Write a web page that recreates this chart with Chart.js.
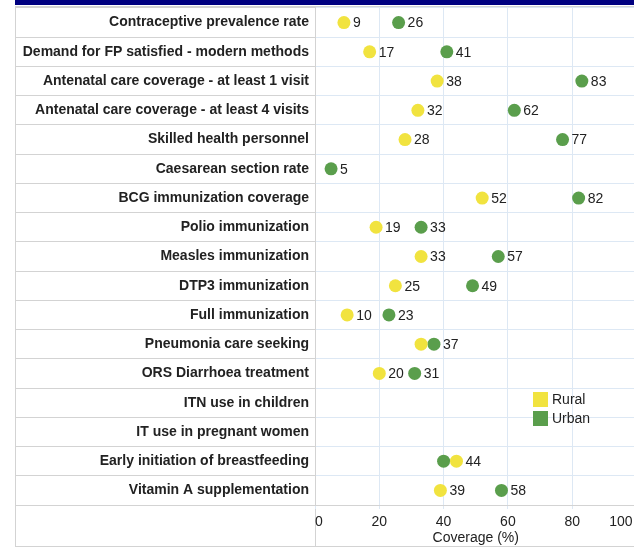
<!DOCTYPE html>
<html>
<head>
<meta charset="utf-8">
<script src="https://cdn.jsdelivr.net/npm/chart.js@4/dist/chart.umd.min.js"></script>
<style>
  html, body { margin: 0; padding: 0; background: #fff; overflow: hidden; width: 634px; height: 547px; }
  #barra { position: absolute; left: 15px; top: 0; width: 625px; height: 5px; background: #000080; }
  #moldura { position: absolute; left: 15px; top: 6px; width: 625px; height: 539px;
             border-top: 1px solid #d3d3d3; border-left: 1px solid #d3d3d3; border-bottom: 1px solid #d3d3d3; }
  #coluna { position: absolute; left: 315px; top: 6px; width: 1px; height: 541px; background: #d3d3d3; }
  #grafico { position: absolute; left: 0; top: 0; }
  #legenda { position: absolute; left: 533px; top: 392px; font: 14px "Liberation Sans", Arial, sans-serif; color: #222; }
  #legenda div { height: 19px; line-height: 15px; white-space: nowrap; }
  #legenda span { display: inline-block; width: 15px; height: 15px; vertical-align: top; margin-right: 4px; }
</style>
</head>
<body>
<div id="barra"></div>
<div id="moldura"></div>
<div id="coluna"></div>
<canvas id="grafico" width="640" height="547"></canvas>
<div id="legenda"></div>
<script>
const indicadores = [
  "Contraceptive prevalence rate",
  "Demand for FP satisfied - modern methods",
  "Antenatal care coverage - at least 1 visit",
  "Antenatal care coverage - at least 4 visits",
  "Skilled health personnel",
  "Caesarean section rate",
  "BCG immunization coverage",
  "Polio immunization",
  "Measles immunization",
  "DTP3 immunization",
  "Full immunization",
  "Pneumonia care seeking",
  "ORS Diarrhoea treatment",
  "ITN use in children",
  "IT use in pregnant women",
  "Early initiation of breastfeeding",
  "Vitamin A supplementation"
];
const rural = [9, 17, 38, 32, 28, null, 52, 19, 33, 25, 10, 33, 20, null, null, 44, 39];
const urbano = [26, 41, 83, 62, 77, 5, 82, 33, 57, 49, 23, 37, 31, null, null, 40, 58];
const ticksX = [0, 20, 40, 60, 80, 100];

const fonte = '"Liberation Sans", Arial, sans-serif';

function pontos(valores) {
  const lista = [];
  valores.forEach((v, i) => {
    if (v !== null) lista.push({ x: v, y: indicadores[i] });
  });
  return lista;
}

// rotulo de valor a direita de cada ponto, omitido quando outro ponto o cobre
const rotulosValores = {
  id: "rotulosValores",
  afterDatasetsDraw(chart) {
    const ctx = chart.ctx;
    const metas = chart.getSortedVisibleDatasetMetas();
    ctx.save();
    ctx.font = "14px " + fonte;
    ctx.fillStyle = "#222";
    ctx.textBaseline = "middle";
    ctx.textAlign = "left";
    metas.forEach(meta => {
      meta.data.forEach((pt, i) => {
        const valor = chart.data.datasets[meta.index].data[i].x;
        const coberto = metas.some(m => m !== meta && m.data.some(o =>
          Math.abs(o.y - pt.y) < 1 && o.x > pt.x && o.x - pt.x < 25));
        if (coberto) return;
        ctx.fillText(valor, pt.x + 9, pt.y + 1);
      });
    });
    ctx.restore();
  }
};

const grafico = new Chart(document.getElementById("grafico"), {
  type: "scatter",
  data: {
    datasets: [
      { label: "Rural", data: pontos(rural), backgroundColor: "#f1e33f", borderWidth: 0, pointRadius: 6.5 },
      { label: "Urban", data: pontos(urbano), backgroundColor: "#5a9e4c", borderWidth: 0, pointRadius: 6.5 }
    ]
  },
  options: {
    responsive: false,
    animation: false,
    layout: { autoPadding: false, padding: { left: 15, top: 8, right: 3.5, bottom: 0 } },
    plugins: { legend: { display: false }, tooltip: { enabled: false } },
    scales: {
      y: {
        type: "category",
        labels: indicadores,
        position: "left",
        offset: true,
        afterFit: scale => { scale.width = 300; scale.paddingTop = 0; scale.paddingBottom = 0; },
        grid: { offset: true, color: "#dde8f4", tickColor: "#d3d3d3", tickLength: 300 },
        border: { color: "#d3d3d3" },
        ticks: { padding: -294, color: "#222", font: { family: fonte, size: 14, weight: "bold" }, autoSkip: false }
      },
      x: {
        type: "linear",
        min: 0,
        max: 100,
        afterFit: scale => { scale.height = 42; scale.paddingLeft = 0; scale.paddingRight = 0; },
        afterBuildTicks: scale => { scale.ticks = ticksX.map(v => ({ value: v })); },
        grid: { color: "#dde8f4", tickColor: "#dde8f4", tickLength: 4 },
        border: { color: "#d3d3d3" },
        ticks: {
          align: "inner", padding: 5, color: "#222", font: { family: fonte, size: 14 }, maxRotation: 0,
          callback: v => (v === 100 ? "100 " : String(v))
        },
        title: { display: true, text: "Coverage (%)", color: "#222", font: { family: fonte, size: 14 }, padding: { top: 0, bottom: 0 } }
      }
    }
  },
  plugins: [rotulosValores]
});

const legenda = document.getElementById("legenda");
grafico.data.datasets.forEach(ds => {
  const item = document.createElement("div");
  const cor = document.createElement("span");
  cor.style.background = ds.backgroundColor;
  item.appendChild(cor);
  item.appendChild(document.createTextNode(ds.label));
  legenda.appendChild(item);
});
</script>
</body>
</html>
